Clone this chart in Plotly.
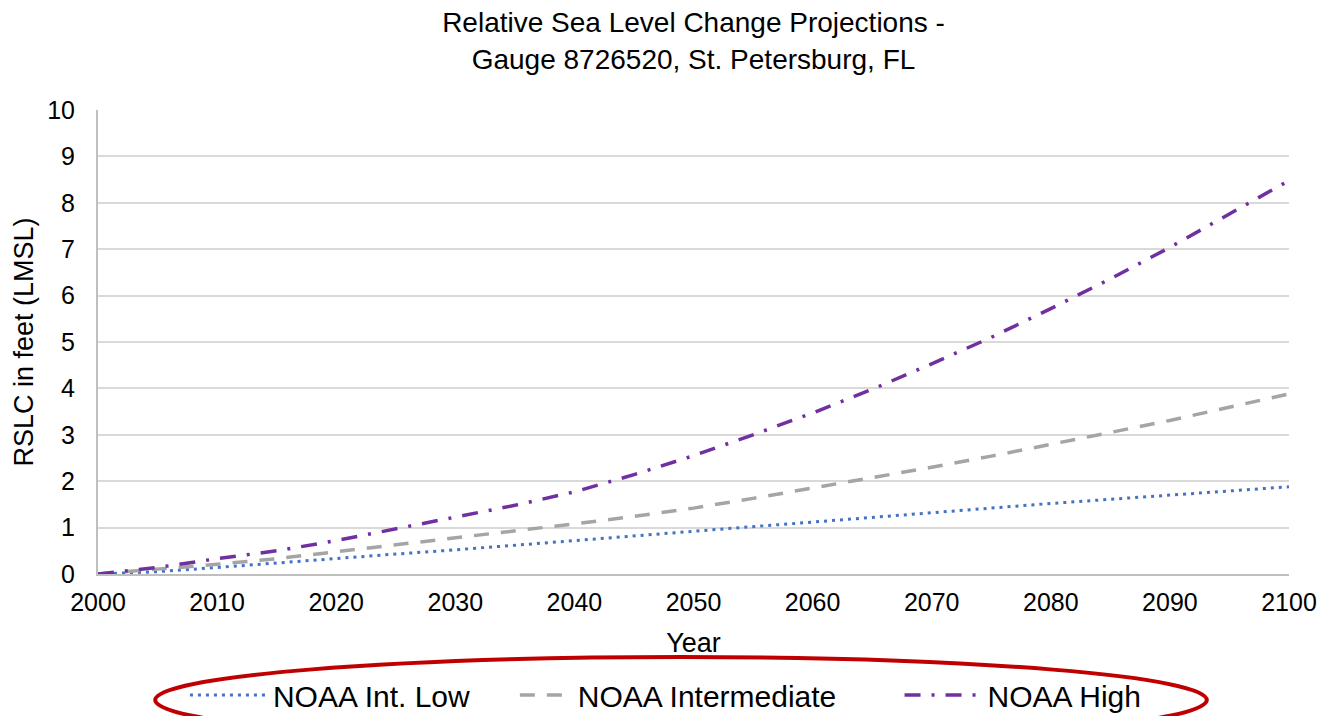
import plotly.graph_objects as go

years = [2000, 2005, 2010, 2015, 2020, 2025, 2030, 2035, 2040, 2045, 2050,
         2055, 2060, 2065, 2070, 2075, 2080, 2085, 2090, 2095, 2100]
int_low = [0.00, 0.05, 0.14, 0.24, 0.33, 0.43, 0.52, 0.62, 0.72, 0.82, 0.93,
           1.03, 1.13, 1.23, 1.33, 1.43, 1.52, 1.61, 1.70, 1.79, 1.88]
intermediate = [0.00, 0.10, 0.21, 0.33, 0.48, 0.62, 0.77, 0.92, 1.08, 1.24, 1.42,
                1.63, 1.85, 2.07, 2.30, 2.54, 2.79, 3.05, 3.31, 3.59, 3.88]
high = [0.00, 0.14, 0.33, 0.50, 0.72, 0.97, 1.22, 1.48, 1.77, 2.14, 2.55,
        3.00, 3.47, 3.98, 4.53, 5.10, 5.72, 6.36, 7.04, 7.75, 8.48]

series_names = ["NOAA Int. Low", "NOAA Intermediate", "NOAA High"]
x_ticks = list(range(2000, 2101, 10))
y_ticks = list(range(0, 11))

FONT = "Liberation Sans, Arial, sans-serif"
LEG_FONT = dict(family=FONT, size=30, color="#000000")

fig = go.Figure()
fig.add_trace(go.Scatter(x=years, y=int_low, mode="lines", name=series_names[0],
                         legend="legend",
                         line=dict(color="#4472C4", width=3, dash="3px,5px")))
fig.add_trace(go.Scatter(x=years, y=intermediate, mode="lines", name=series_names[1],
                         legend="legend2",
                         line=dict(color="#A5A5A5", width=3.5, dash="15px,12px")))
fig.add_trace(go.Scatter(x=years, y=high, mode="lines", name=series_names[2],
                         legend="legend3",
                         line=dict(color="#7030A0", width=3.5, dash="16px,11px,3px,11px")))

leg_common = dict(orientation="h", yanchor="middle", y=-0.261, xanchor="left",
                  font=LEG_FONT, bgcolor="rgba(0,0,0,0)", borderwidth=0)

fig.update_layout(
    width=1322, height=716,
    paper_bgcolor="white", plot_bgcolor="white",
    margin=dict(l=98, r=33, t=110, b=142, autoexpand=False),
    font=dict(family=FONT, size=25, color="#000000"),
    title=dict(text="Relative Sea Level Change Projections -<br>Gauge 8726520, St. Petersburg, FL",
               x=0.5, xanchor="center", xref="paper", y=0.955, yanchor="top",
               font=dict(family=FONT, size=28, color="#000000")),
    xaxis=dict(range=[2000, 2100], tickvals=x_ticks, ticktext=[str(v) for v in x_ticks],
               showgrid=False, zeroline=False, showline=True, linecolor="#BFBFBF", linewidth=2,
               ticks="", tickfont=dict(size=25), ticklabelstandoff=5,
               fixedrange=True, automargin=False,
               title=dict(text="Year", font=dict(size=27), standoff=18)),
    yaxis=dict(range=[0, 10], tickvals=y_ticks, showgrid=True, gridcolor="#D9D9D9", gridwidth=2,
               zeroline=False, showline=True, linecolor="#BFBFBF", linewidth=2,
               ticks="", tickfont=dict(size=25), ticklabelstandoff=16,
               fixedrange=True, automargin=False,
               title=dict(text="RSLC in feet (LMSL)", font=dict(size=27), standoff=6)),
    legend=dict(x=0.073, itemwidth=78, **leg_common),
    legend2=dict(x=0.350, itemwidth=53, **leg_common),
    legend3=dict(x=0.673, itemwidth=78, **leg_common),
    showlegend=True,
)

# red ellipse highlighting the legend
fig.add_shape(type="circle", xref="paper", yref="paper",
              x0=0.048, x1=0.931, y0=-0.364, y1=-0.179,
              line=dict(color="#C00000", width=4), fillcolor="rgba(0,0,0,0)")

fig.write_html("out.html", config={"displayModeBar": False},
               post_script="document.body.style.margin='0';document.body.style.overflow='hidden';")
